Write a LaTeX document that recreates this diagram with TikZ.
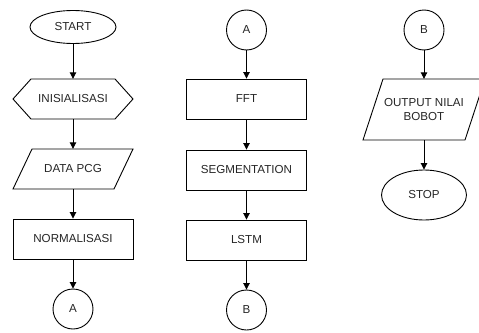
\documentclass[tikz,border=0pt]{standalone}
\usepackage{fontspec}
\setmainfont{Liberation Sans}
\usetikzlibrary{shapes.geometric,arrows.meta}
\begin{document}
\begin{tikzpicture}[x=1pt,y=-1pt,
  every node/.style={font=\fontsize{11.6}{14}\selectfont, text=black!85, align=center, inner sep=0pt},
  ln/.style={draw=black, line width=0.9pt},
  arr/.style={draw=black, line width=0.9pt, -{Triangle[length=6.5pt,width=6.5pt]}},
  term/.style={ln, ellipse},
  conn/.style={ln, circle, minimum size=40pt},
  proc/.style={ln, rectangle, minimum width=120pt, minimum height=40pt},
  box/.style={rectangle}
]
\useasboundingbox (0,0) rectangle (479,332);
\clip (0,0) rectangle (479,332);
\fill[white] (0,0) rectangle (479,332);

% column 1
\node[term, minimum width=86pt, minimum height=33pt] (start) at (73,27) {START};
\draw[ln] (13,99) -- (31,79) -- (115,79) -- (133,99) -- (115,119) -- (31,119) -- cycle;
\node[box, minimum width=120pt, minimum height=40pt] (init) at (73,99) {INISIALISASI};
\draw[ln] (32,149) -- (133,149) -- (114,189) -- (13,189) -- cycle;
\node[box, minimum width=120pt, minimum height=40pt] (data) at (73,169) {DATA PCG};
\node[proc] (norm) at (73,239) {NORMALISASI};
\node[conn] (a1) at (73,309) {A};
\draw[arr] (start) -- (init);
\draw[arr] (init) -- (data);
\draw[arr] (data) -- (norm);
\draw[arr] (norm) -- (a1);

% column 2
\node[conn] (a2) at (246.5,30) {A};
\node[proc] (fft) at (246.5,99) {FFT};
\node[proc] (seg) at (246.5,170) {SEGMENTATION};
\node[proc] (lstm) at (246.5,240) {LSTM};
\node[conn] (b1) at (246.5,310) {B};
\draw[arr] (a2) -- (fft);
\draw[arr] (fft) -- (seg);
\draw[arr] (seg) -- (lstm);
\draw[arr] (lstm) -- (b1);

% column 3
\node[conn] (b2) at (424,30) {B};
\draw[ln] (383,79) -- (485,79) -- (465,140) -- (363,140) -- cycle;
\node[box, minimum width=122pt, minimum height=61pt] (out) at (424,109.5) {OUTPUT NILAI\\BOBOT};
\node[term, minimum width=85pt, minimum height=50pt] (stop) at (424,195) {STOP};
\draw[arr] (b2) -- (out);
\draw[arr] (out) -- (stop);
\end{tikzpicture}
\end{document}
